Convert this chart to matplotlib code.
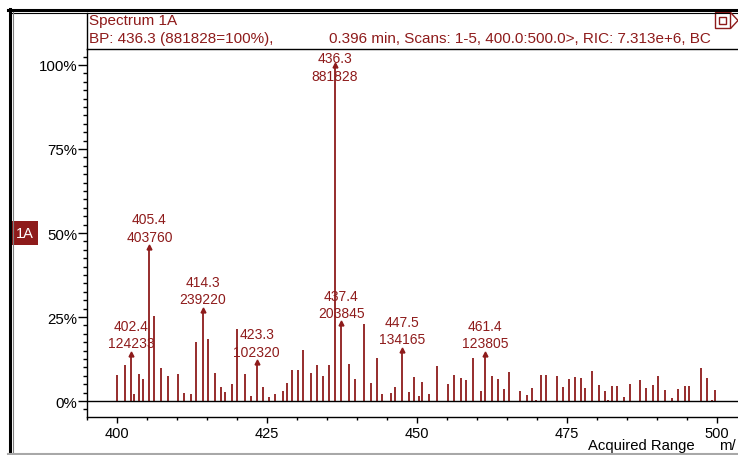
import matplotlib
matplotlib.use("Agg")
import matplotlib.pyplot as plt
from matplotlib.lines import Line2D
from matplotlib.patches import Rectangle
from matplotlib.ticker import MultipleLocator, FuncFormatter

W, H = 738, 456

# spectrum 1A, relative intensity (% of base peak)
base_peak = 881828
peak_mz = [400.0, 401.4, 402.8, 403.7, 404.4, 406.2, 407.3, 408.5, 410.1, 411.2,
           412.4, 413.2, 415.1, 416.3, 417.3, 418.0, 419.2, 420.0, 421.3, 422.4,
           424.3, 425.3, 426.4, 427.6, 428.3, 429.2, 430.1, 431.0, 432.4, 433.3,
           434.3, 435.3, 438.6, 439.7, 441.2, 442.3, 443.3, 444.2, 445.6, 446.4,
           448.7, 449.5, 450.3, 450.9, 452.0, 453.4, 455.2, 456.2, 457.3, 458.1,
           459.3, 460.7, 462.5, 463.5, 464.5, 465.3, 467.1, 468.4, 469.2, 469.8,
           470.6, 471.5, 473.3, 474.3, 475.4, 476.3, 477.3, 478.0, 479.2, 480.3,
           481.3, 481.9, 482.5, 483.4, 484.5, 485.5, 487.2, 488.2, 489.3, 490.2,
           491.3, 492.5, 493.5, 494.6, 495.4, 497.3, 498.3, 499.2, 499.7]
peak_pct = [7.7, 10.7, 2.1, 7.9, 6.5, 25.4, 9.7, 7.3, 7.9, 2.5,
            2.1, 17.5, 18.6, 8.2, 4.1, 2.8, 5.1, 21.4, 7.9, 1.4,
            4.1, 1.1, 2.1, 3.1, 5.3, 9.2, 9.2, 15.2, 8.2, 10.7,
            7.5, 10.7, 11.0, 6.5, 22.8, 5.5, 12.7, 2.1, 2.4, 4.1,
            2.8, 7.2, 1.4, 5.8, 2.1, 10.3, 5.2, 7.8, 6.9, 6.3,
            12.7, 3.1, 7.5, 6.5, 3.6, 8.5, 3.1, 1.8, 3.9, 0.4,
            7.8, 7.8, 7.5, 4.1, 6.5, 7.1, 6.8, 3.8, 8.9, 4.8,
            3.1, 0.4, 4.4, 4.4, 1.1, 5.1, 6.2, 3.8, 4.8, 7.5,
            3.4, 0.8, 3.5, 4.4, 4.4, 9.7, 6.8, 0.4, 3.3]

# labelled peaks (m/z, counts)
label_mz = [402.4, 405.4, 414.3, 423.3, 436.3, 437.4, 447.5, 461.4]
label_counts = [124233, 403760, 239220, 102320, 881828, 203845, 134165, 123805]

header_1 = "Spectrum 1A"
header_2 = "BP: 436.3 (881828=100%),"
header_3 = "0.396 min, Scans: 1-5, 400.0:500.0>, RIC: 7.313e+6, BC"

red = "#8e1b1b"
plt.rcParams["font.family"] = ["Liberation Sans", "DejaVu Sans"]
plt.rcParams["font.size"] = 10

fig = plt.figure(figsize=(W / 100, H / 100), dpi=100)


def fx(x):
    return x / W


def fy(y):
    return 1 - y / H


y_lo, y_hi = -4.76, 104.76
ax = fig.add_axes([fx(87), fy(418), (W - 87) / W, (418 - 50) / H])
ax.set_xlim(395, 503.5)
ax.set_ylim(y_lo, y_hi)

ax.vlines(peak_mz, 0, peak_pct, color=red, lw=1.3)
label_pct = [c / base_peak * 100 for c in label_counts]
ax.vlines(label_mz, 0, label_pct, color=red, lw=1.3)
ax.plot(label_mz, label_pct, "^", ms=3.5, color=red, mec=red)
ax.axhline(0, color="black", lw=1)

for m, c, p in zip(label_mz, label_counts, label_pct):
    txt = f"{m:.1f}\n{c}"
    if p > 95:
        ax.annotate(txt, (m, y_hi), xytext=(0, -1.5), textcoords="offset points",
                    ha="center", va="top", color=red, linespacing=1.35)
    else:
        ax.annotate(txt, (m, p), xytext=(0, 2.5), textcoords="offset points",
                    ha="center", va="bottom", color=red, linespacing=1.3)

ax.xaxis.set_major_locator(MultipleLocator(25))
ax.xaxis.set_minor_locator(MultipleLocator(5))
ax.yaxis.set_major_locator(MultipleLocator(25))
ax.yaxis.set_minor_locator(MultipleLocator(2.5))
ax.yaxis.set_major_formatter(FuncFormatter(lambda v, pos: f"{v:.0f}%"))
ax.tick_params(axis="y", which="major", length=6.5, width=1, pad=0.5, labelsize=10.8)
ax.tick_params(axis="y", which="minor", length=3, width=1)
ax.tick_params(axis="x", which="major", length=4.5, width=1, pad=2, labelsize=10.5)
ax.tick_params(axis="x", which="minor", length=2.5, width=1)
ax.spines["right"].set_visible(False)
for s in ("left", "bottom", "top"):
    ax.spines[s].set_linewidth(1)

# window frame and header box
frame = [
    ([8, W], [11, 11], 2.2, "black"),
    ([12, W], [13.8, 13.8], 0.8, "black"),
    ([9.5, 9.5], [10, 455], 2.2, "black"),
    ([12.8, 12.8], [13, 455], 0.8, "#808080"),
    ([86.5, 86.5], [13.5, 50], 1, "black"),
    ([8, W], [455, 455], 1.5, "#a8a8a8"),
]
for xs, ys, lw, col in frame:
    fig.add_artist(Line2D([fx(v) for v in xs], [fy(v) for v in ys], lw=lw, color=col))

fig.text(fx(89), fy(21), header_1, va="center", ha="left", color=red, fontsize=11)
fig.text(fx(89), fy(39), header_2, va="center", ha="left", color=red, fontsize=11)
fig.text(fx(329), fy(39), header_3, va="center", ha="left", color=red, fontsize=11)

# trace tag
fig.add_artist(Rectangle((fx(11), fy(246)), (38 - 11) / W, (246 - 222) / H,
                         facecolor=red, edgecolor="none"))
fig.text(fx(24.5), fy(234), "1A", color="white", ha="center", va="center", fontsize=10.5)

# toolbar icon in the corner
fig.add_artist(Rectangle((fx(715), fy(29)), 15 / W, 16 / H, facecolor="white",
                         edgecolor=red, lw=1))
fig.add_artist(Rectangle((fx(719), fy(25)), 7 / W, 7 / H, facecolor="none",
                         edgecolor=red, lw=1))
fig.add_artist(Line2D([fx(731), fx(738), fx(731)], [fy(14), fy(21.5), fy(29)],
                      lw=1, color=red))

fig.text(fx(588), fy(446), "Acquired Range", va="center", ha="left", fontsize=10.7)
fig.text(fx(719), fy(446), "m/", va="center", ha="left", fontsize=10.7)

fig.savefig("out.png", dpi=100)
